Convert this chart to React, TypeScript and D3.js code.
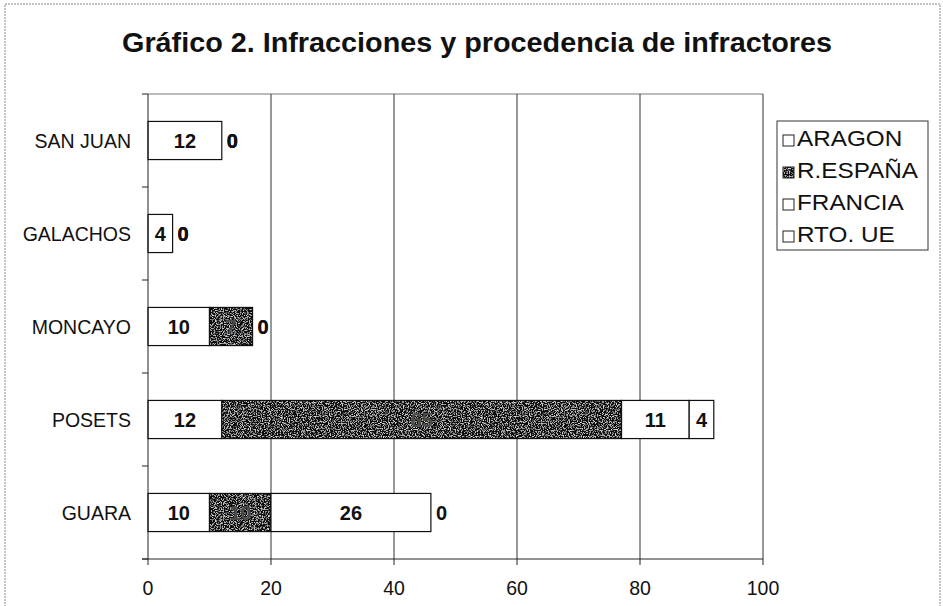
import React from "react";
import * as d3 from "d3";

const categories = ["SAN JUAN", "GALACHOS", "MONCAYO", "POSETS", "GUARA"];
const seriesNames = ["ARAGON", "R.ESPAÑA", "FRANCIA", "RTO. UE"];
const aragon = [12, 4, 10, 12, 10];
const respana = [0, 0, 7, 65, 10];
const francia = [0, 0, 0, 11, 26];
const rtoue = [0, 0, 0, 4, 0];
const xTicks = [0, 20, 40, 60, 80, 100];
const title = "Gráfico 2. Infracciones y procedencia de infractores";

const W = 943, H = 606;
const M = { left: 148, right: 763, top: 94, bottom: 559 };
const FONT = "Liberation Sans, Arial, sans-serif";

export default function App() {
  const x = d3.scaleLinear().domain([0, 100]).range([M.left, M.right]);
  const y = d3.scaleBand().domain(categories).range([M.top, M.bottom]).paddingInner(0.59).paddingOuter(0.295);
  const rows = categories.map((c, i) => ({ cat: c, ARAGON: aragon[i], "R.ESPAÑA": respana[i], FRANCIA: francia[i], "RTO. UE": rtoue[i] }));
  const stacked = d3.stack<any>().keys(seriesNames)(rows);
  const fills = ["#fff", "url(#noise)", "#fff", "#fff"];
  const step = y.step();
  const boundaries = d3.range(categories.length + 1).map(i => M.top + i * step);

  return (
    <svg width={W} height={H} style={{ position: "absolute", left: 0, top: 0, background: "#fff" }}>
      <defs>
        <filter id="grain" x="0" y="0" width="100%" height="100%">
          <feTurbulence type="fractalNoise" baseFrequency="0.85" numOctaves="2" seed="3" result="t" />
          <feColorMatrix in="t" type="matrix" values="0 0 0 0 0  0 0 0 0 0  0 0 0 0 0  0 0 0 -4 2.05" result="n" />
          <feFlood floodColor="#d8d8d8" result="w" />
          <feComposite in="w" in2="n" operator="in" result="spk" />
          <feFlood floodColor="#111" result="bg" />
          <feMerge>
            <feMergeNode in="bg" />
            <feMergeNode in="spk" />
          </feMerge>
        </filter>
        <pattern id="noise" patternUnits="userSpaceOnUse" width="200" height="200">
          <rect width="200" height="200" fill="#222" filter="url(#grain)" />
        </pattern>
      </defs>
      <rect x={5} y={4} width={935} height={640} fill="#fff" stroke="#888" strokeWidth={1} strokeDasharray="2,1" />
      <text x={122} y={52} textLength={710} lengthAdjust="spacingAndGlyphs" fontFamily={FONT} fontWeight="bold" fontSize={27} fill="#111">{title}</text>

      {/* plot area border top */}
      <line x1={M.left} x2={M.right} y1={M.top} y2={M.top} stroke="#777" />
      {xTicks.filter(t => t > 0).map(t => (
        <line key={t} x1={x(t)} x2={x(t)} y1={M.top} y2={M.bottom} stroke="#333" strokeWidth={1} />
      ))}

      {stacked.map((s, si) => s.map((d, i) => {
        const w = x(d[1]) - x(d[0]);
        if (w <= 0) return null;
        return <rect key={si + "-" + i} x={x(d[0])} y={y(categories[i])!} width={w} height={y.bandwidth()} fill={fills[si]} stroke="#111" strokeWidth={1.2} />;
      }))}

      {stacked.map((s, si) => s.map((d, i) => {
        const v = d[1] - d[0];
        const cy = y(categories[i])! + y.bandwidth() / 2 + 7;
        if (v === 0) {
          return <text key={"l" + si + "-" + i} x={x(d[1]) + 5} y={cy} fontFamily={FONT} fontWeight="bold" fontSize={20} fill="#111">{v}</text>;
        }
        return <text key={"l" + si + "-" + i} x={(x(d[0]) + x(d[1])) / 2} y={cy} textAnchor="middle" fontFamily={FONT} fontWeight="bold" fontSize={20} fill={si === 1 ? "#4a4a4a" : "#111"}>{v}</text>;
      }))}

      {/* axes */}
      <line x1={M.left} x2={M.left} y1={M.top} y2={M.bottom} stroke="#222" />
      {boundaries.map((b, i) => (
        <line key={"yt" + i} x1={M.left - 6} x2={M.left} y1={b} y2={b} stroke="#222" />
      ))}
      <line x1={M.left - 6} x2={M.right} y1={M.bottom} y2={M.bottom} stroke="#222" />
      {xTicks.map(t => (
        <g key={"xt" + t}>
          <line x1={x(t)} x2={x(t)} y1={M.bottom} y2={M.bottom + 6} stroke="#222" />
          <text x={x(t)} y={M.bottom + 36} textAnchor="middle" fontFamily={FONT} fontSize={19.5} fill="#111">{t}</text>
        </g>
      ))}
      {categories.map(c => (
        <text key={c} x={131} y={y(c)! + y.bandwidth() / 2 + 7} textAnchor="end" fontFamily={FONT} fontSize={19.5} fill="#111">{c}</text>
      ))}

      {/* legend */}
      <rect x={777} y={121} width={151} height={129} fill="#fff" stroke="#333" />
      {seriesNames.map((n, i) => (
        <g key={n}>
          <rect x={783} y={135 + i * 32} width={11} height={11} fill={fills[i]} stroke="#222" />
          <text transform={`translate(797,${146 + i * 32}) scale(1.13,1)`} fontFamily={FONT} fontSize={21.5} fill="#111">{n}</text>
        </g>
      ))}
    </svg>
  );
}
